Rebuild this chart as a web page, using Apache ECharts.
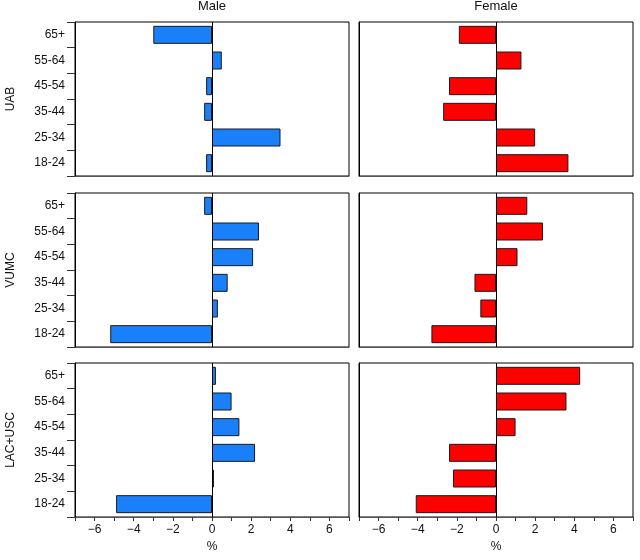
<!DOCTYPE html>
<html>
<head>
<meta charset="utf-8">
<script src="https://cdn.jsdelivr.net/npm/echarts@6/dist/echarts.min.js"></script>
<style>
  html, body { margin: 0; padding: 0; background: #fff; }
  #main { width: 640px; height: 560px; }
</style>
</head>
<body>
<div id="main"></div>
<script>
// age groups, bottom to top
const ageGroups = ['18-24', '25-34', '35-44', '45-54', '55-64', '65+'];
const sites = ['UAB', 'VUMC', 'LAC+USC'];
const sexes = ['Male', 'Female'];

// % values per site and sex (order follows ageGroups)
const uabMale = [-0.3, 3.5, -0.4, -0.3, 0.5, -3.0];
const uabFemale = [3.7, 2.0, -2.7, -2.4, 1.3, -1.9];
const vumcMale = [-5.2, 0.3, 0.8, 2.1, 2.4, -0.4];
const vumcFemale = [-3.3, -0.8, -1.1, 1.1, 2.4, 1.6];
const lacMale = [-4.9, 0.1, 2.2, 1.4, 1.0, 0.2];
const lacFemale = [-4.1, -2.2, -2.4, 1.0, 3.6, 4.3];

const panelData = [
  [uabMale, uabFemale],
  [vumcMale, vumcFemale],
  [lacMale, lacFemale],
];
const xTicks = [-6, -4, -2, 0, 2, 4, 6];

const fillColors = ['#1a80fa', '#ff0000'];
const font = 'Liberation Sans, Arial, sans-serif';

const panelLeft = [75, 359];
const panelWidth = 274;
const panelTop = [22, 193, 363];
const panelHeight = 154;

const grids = [], xAxes = [], yAxes = [], series = [];

sites.forEach(function (site, r) {
  sexes.forEach(function (sex, c) {
    const idx = grids.length;
    const isLeft = c === 0;
    const isBottom = r === sites.length - 1;
    grids.push({
      left: panelLeft[c], top: panelTop[r], width: panelWidth, height: panelHeight,
      show: true, borderColor: '#000', borderWidth: 1, backgroundColor: '#fff'
    });
    xAxes.push({
      type: 'value', gridIndex: idx, min: -7, max: 7, interval: 1,
      splitLine: { show: false },
      axisLine: { show: true, lineStyle: { color: '#555', width: 1 } },
      axisTick: { show: isBottom, length: 4, lineStyle: { color: '#333' } },
      axisLabel: {
        show: isBottom, color: '#111', fontSize: 12, fontFamily: font, margin: 7,
        formatter: function (v) {
          return xTicks.indexOf(v) >= 0 ? String(v).replace('-', '\u2212') : '';
        }
      },
      name: isBottom ? '%' : '', nameLocation: 'middle', nameGap: 24,
      nameTextStyle: { color: '#111', fontSize: 12, fontFamily: font }
    });
    yAxes.push({
      type: 'category', gridIndex: idx, data: ageGroups,
      axisLine: { show: true, onZero: false, lineStyle: { color: '#000' } },
      axisTick: { show: isLeft, length: 8, lineStyle: { color: '#333' } },
      axisLabel: { show: isLeft, color: '#111', fontSize: 12, fontFamily: font, margin: 10 },
      name: isLeft ? site : '', nameLocation: 'middle', nameGap: 58, nameRotate: 90,
      nameTextStyle: { color: '#111', fontSize: 12, fontFamily: font }
    });
    series.push({
      type: 'bar', xAxisIndex: idx, yAxisIndex: idx,
      data: panelData[r][c], barWidth: 18,
      itemStyle: { color: fillColors[c], borderColor: '#1a1a1a', borderWidth: 1 },
      markLine: {
        silent: true, symbol: 'none', label: { show: false },
        lineStyle: { color: '#000', width: 1, type: 'solid' },
        data: [{ xAxis: 0 }]
      },
      animation: false
    });
  });
});

const chart = echarts.init(document.getElementById('main'));
chart.setOption({
  backgroundColor: '#fff',
  animation: false,
  graphic: sexes.map(function (sex, c) {
    return {
      type: 'text', x: panelLeft[c] + panelWidth / 2, y: 0,
      style: { text: sex, fill: '#111', font: '13px ' + font, textAlign: 'center', textVerticalAlign: 'top' }
    };
  }),
  grid: grids,
  xAxis: xAxes,
  yAxis: yAxes,
  series: series
});
</script>
</body>
</html>
